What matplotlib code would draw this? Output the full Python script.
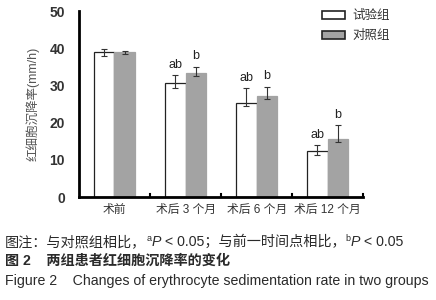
import matplotlib
matplotlib.use("Agg")
import matplotlib.pyplot as plt
import numpy as np
from matplotlib.patches import Patch

plt.rcParams['font.family'] = ['Liberation Sans', 'Noto Sans CJK SC', 'DejaVu Sans']

categories = ["术前", "术后 3 个月", "术后 6 个月", "术后 12 个月"]
series_names = ["试验组", "对照组"]
test_vals = [38.9, 30.6, 25.3, 12.5]
test_err_low = [1.0, 1.2, 0.7, 1.1]
test_err_high = [0.9, 2.2, 4.0, 1.5]
ctrl_vals = [39.0, 33.4, 27.2, 15.7]
ctrl_err_low = [0.6, 0.9, 0.9, 0.8]
ctrl_err_high = [0.4, 1.6, 2.5, 3.6]
test_marks = ["", "ab", "ab", "ab"]
ctrl_marks = ["", "b", "b", "b"]
yticks = [0, 10, 20, 30, 40, 50]

fig = plt.figure(figsize=(4.36, 3.0), dpi=100)
ax = fig.add_axes([0.181, 0.343, 0.652, 0.62])

x = np.arange(len(categories))
w = 0.29
gray = '#a3a3a3'
ax.bar(x - w/2, test_vals, w, color='white', edgecolor='#222222', linewidth=0.9, zorder=2)
ax.bar(x + w/2, ctrl_vals, w, color=gray, edgecolor=gray, linewidth=0.9, zorder=2)
ax.errorbar(x - w/2, test_vals, yerr=[test_err_low, test_err_high], fmt='none',
            ecolor='#333333', elinewidth=0.8, capsize=2.5, capthick=0.8, zorder=3)
ax.errorbar(x + w/2, ctrl_vals, yerr=[ctrl_err_low, ctrl_err_high], fmt='none',
            ecolor='#333333', elinewidth=0.8, capsize=2.5, capthick=0.8, zorder=3)

for i in range(len(categories)):
    if test_marks[i]:
        ax.text(x[i] - w/2, test_vals[i] + test_err_high[i] + 1.2, test_marks[i],
                ha='center', va='bottom', fontsize=9, color='#222222')
    if ctrl_marks[i]:
        ax.text(x[i] + w/2, ctrl_vals[i] + ctrl_err_high[i] + 1.2, ctrl_marks[i],
                ha='center', va='bottom', fontsize=9, color='#222222')

ax.set_xlim(-0.5, len(categories) - 0.5)
ax.set_ylim(0, 50)
ax.set_yticks(yticks)
ax.set_yticklabels([str(t) for t in yticks], fontsize=10, color='#333333', fontweight='bold')
ax.set_xticks(x)
ax.set_xticklabels(categories, fontsize=8.5, color='#333333')
ax.tick_params(axis='x', length=0, pad=5)
ax.tick_params(axis='y', length=0, pad=10)
for b in np.arange(0.5, len(categories) + 0.5, 1.0):
    ax.plot([b, b], [0, 0.8], color='black', lw=1.5, clip_on=False, zorder=4)
for s in ['top', 'right']:
    ax.spines[s].set_visible(False)
ax.spines['left'].set_linewidth(2)
ax.spines['bottom'].set_linewidth(2)
ax.set_ylabel("红细胞沉降率(mm/h)", fontsize=9, color='#555555', labelpad=7)

handles = [Patch(facecolor='white', edgecolor='#222222', linewidth=1.2),
           Patch(facecolor=gray, edgecolor='#222222', linewidth=1.2)]
leg = fig.legend(handles, series_names, loc='upper left',
                 bbox_to_anchor=(322 / 436, (300 - 10) / 300),
                 frameon=False, fontsize=9, handlelength=1.85, handleheight=0.6,
                 handletextpad=0.6, labelspacing=0.65, borderpad=0, borderaxespad=0,
                 labelcolor='#333333')

fig.canvas.draw()
renderer = fig.canvas.get_renderer()

def seq_text(xpx, ypx, pieces):
    cur = xpx
    for txt, kw in pieces:
        kw = dict(kw)
        dy = kw.pop('dy', 0)
        t = fig.text(cur / 436, (300 - ypx + dy) / 300, txt, va='baseline', ha='left', **kw)
        bb = t.get_window_extent(renderer=renderer)
        cur += bb.width

cap_color = '#2a2a2a'
fs = 10.2
base = dict(fontsize=fs, color=cap_color)
sup = dict(fontsize=6.5, color=cap_color, dy=5)
it = dict(fontsize=fs, color=cap_color, style='italic')
seq_text(5, 246, [("图注：与对照组相比，", base), ("a", sup), ("P", it), (" < 0.05；与前一时间点相比，", base),
                  ("b", sup), ("P", it), (" < 0.05", base)])
fig.text(5 / 436, (300 - 265) / 300, "图 2    两组患者红细胞沉降率的变化", fontsize=fs, color=cap_color,
         fontweight='bold', va='baseline', ha='left')
fig.text(5 / 436, (300 - 285) / 300, "Figure 2    Changes of erythrocyte sedimentation rate in two groups",
         fontsize=fs, color=cap_color, va='baseline', ha='left')

fig.savefig("out.png", dpi=100)
